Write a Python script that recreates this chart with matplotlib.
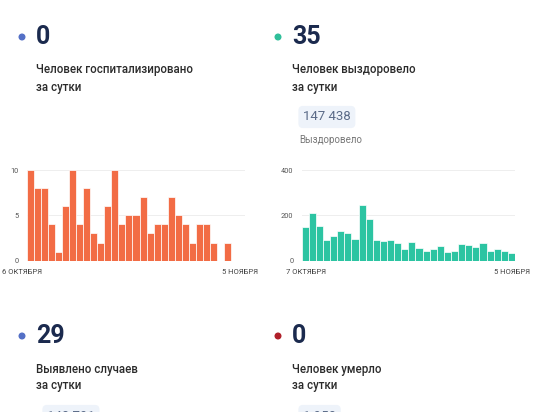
import matplotlib.pyplot as plt

FIG_W_PX = 550
FIG_H_PX = 412
DPI = 100

plt.rcParams["font.family"] = ["Roboto", "DejaVu Sans"]

HOSPITAL_VALUES = [10, 8, 8, 4, 1, 6, 10, 4, 8, 3, 2, 6, 10, 4, 5, 5, 7, 3, 4, 4,
                   7, 5, 4, 2, 4, 4, 2, 0, 2, 0, 0]
HOSPITAL_TICKS = [0, 5, 10]
HOSPITAL_DATES = ["6 ОКТЯБРЯ", "5 НОЯБРЯ"]

RECOVERED_VALUES = [150, 212, 154, 90, 110, 129, 120, 94, 244, 185, 93, 85, 91, 76, 53,
                    82, 54, 41, 50, 65, 38, 41, 72, 69, 62, 76, 41, 51, 41, 32]
RECOVERED_TICKS = [0, 200, 400]
RECOVERED_DATES = ["7 ОКТЯБРЯ", "5 НОЯБРЯ"]

CARDS = [
    # (dot x, top y, dot colour, number, label lines, total, total caption)
    (22, 37, "#5470c6", "0", ["Человек госпитализировано", "за сутки"], None, None),
    (278, 37, "#2fbf9a", "35", ["Человек выздоровело", "за сутки"], "147 438", "Выздоровело"),
    (22, 336, "#5470c6", "29", ["Выявлено случаев", "за сутки"], "148 791", None),
    (278, 336, "#b0202a", "0", ["Человек умерло", "за сутки"], "1 958", None),
]

NAVY = "#1b2a4e"
ORANGE = "#f26c45"
TEAL = "#2cc4a2"


def fx(px):
    return px / FIG_W_PX


def fy(py):
    return 1 - py / FIG_H_PX


def bar_panel(fig, rect_px, values, ticks, color, dates, date_pos):
    left, top, right, bottom = rect_px
    ax = fig.add_axes([fx(left), fy(bottom), fx(right - left), (bottom - top) / FIG_H_PX])
    positions = list(range(len(values)))
    ax.bar(positions, values, width=1, align="edge", color=color,
           edgecolor="white", linewidth=0.5, zorder=2)
    ax.set_xlim(0, len(values))
    ax.set_ylim(0, ticks[-1])
    ax.set_yticks(ticks)
    ax.set_xticks([])
    ax.tick_params(axis="y", length=0, labelsize=5.3, labelcolor="#555555", pad=6)
    ax.grid(axis="y", color="#eeeeee", linewidth=0.7, zorder=0)
    for spine in ax.spines.values():
        spine.set_visible(False)
    ax.patch.set_alpha(0)
    (lx, ly), (rx, ry) = date_pos
    fig.text(fx(lx), fy(ly), dates[0], fontsize=5.5, color="#444444", ha="left", va="center")
    fig.text(fx(rx), fy(ry), dates[1], fontsize=5.5, color="#444444", ha="right", va="center")
    return ax


def card(fig, dot_x, top_y, dot_color, number, lines, total, caption):
    fig.patches.append(plt.Circle((dot_x, FIG_H_PX - top_y), 2.8, color=dot_color,
                                  transform=None, figure=fig))
    text_x = dot_x + 14
    fig.text(fx(text_x), fy(top_y), number, fontsize=18, fontweight="bold",
             color=NAVY, ha="left", va="center")
    for i, line in enumerate(lines):
        fig.text(fx(text_x), fy(top_y + 33 + 17 * i), line, fontsize=8.3,
                 fontweight="medium", color="#2b2b2b", ha="left", va="center")
    if total is not None:
        fig.text(fx(text_x + 11), fy(top_y + 80), total, fontsize=9.5, color="#5b6b88",
                 ha="left", va="center",
                 bbox=dict(boxstyle="round,pad=0.35", fc="#eef3fa", ec="none"))
    if caption is not None:
        fig.text(fx(text_x + 7), fy(top_y + 103), caption, fontsize=7, color="#777777",
                 ha="left", va="center")


def main():
    fig = plt.figure(figsize=(FIG_W_PX / DPI, FIG_H_PX / DPI), dpi=DPI)
    fig.patch.set_facecolor("white")

    for spec in CARDS:
        card(fig, *spec)

    bar_panel(fig, (27, 170, 245, 260.7), HOSPITAL_VALUES, HOSPITAL_TICKS, ORANGE,
              HOSPITAL_DATES, ((2, 271.5), (258, 271.5)))
    bar_panel(fig, (301.7, 170, 515, 260.7), RECOVERED_VALUES, RECOVERED_TICKS, TEAL,
              RECOVERED_DATES, ((286, 271.5), (530, 271.5)))

    fig.savefig("out.png", dpi=DPI)


if __name__ == "__main__":
    main()
